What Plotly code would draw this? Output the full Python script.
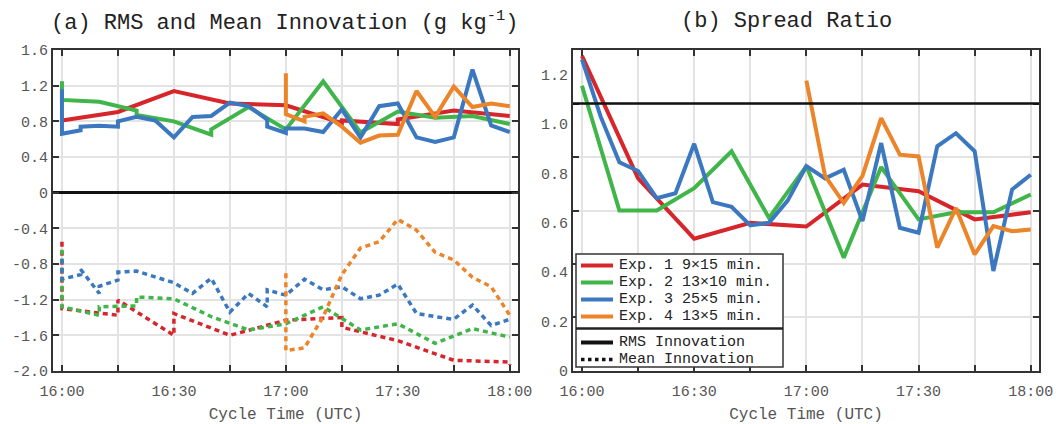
import plotly.graph_objects as go

# ---- axis ticks (minutes after 16:00 UTC) ----
MAJOR_MIN = [0, 30, 60, 90, 120]
MAJOR_TXT = ["16:00", "16:30", "17:00", "17:30", "18:00"]
MINOR_MIN = [15, 45, 75, 105]
A_YVALS = [1.6, 1.2, 0.8, 0.4, 0, -0.4, -0.8, -1.2, -1.6, -2.0]
A_YTXT = ["1.6", "1.2", "0.8", "0.4", "0", "-0.4", "-0.8", "-1.2", "-1.6", "-2.0"]
B_YVALS = [0, 0.2, 0.4, 0.6, 0.8, 1.0, 1.2]
B_YTXT = ["0", "0.2", "0.4", "0.6", "0.8", "1.0", "1.2"]
B_GRID = [0, 0.2167, 0.4333, 0.65, 0.8667, 1.0833, 1.3]

EXP_NAMES = ["Exp. 1 9×15 min.", "Exp. 2 13×10 min.", "Exp. 3 25×5 min.", "Exp. 4 13×5 min."]
EXP_COLORS = ["#d7262b", "#3fb54a", "#3b78c0", "#ec8429"]
STYLE_NAMES = ["RMS Innovation", "Mean Innovation"]

# ---- (a) RMS innovation ----
e1_rms_t = [0, 15, 30, 45, 60, 75, 75, 90, 90, 105, 120]
e1_rms_v = [0.81, 0.905, 1.14, 1.0, 0.98, 0.78, 0.81, 0.77, 0.82, 0.92, 0.86]
e2_rms_t = [0, 0, 10, 20, 20, 30, 40, 40, 50, 60, 70, 80, 90, 100, 110, 120]
e2_rms_v = [1.25, 1.04, 1.02, 0.92, 0.87, 0.80, 0.65, 0.71, 0.96, 0.71, 1.25, 0.675, 0.91, 0.84, 0.86, 0.77]
e3_rms_t = [0, 0, 5, 5, 10, 15, 15, 20, 25, 30, 35, 40, 45, 50, 55, 55, 60, 60,
            65, 70, 75, 80, 85, 90, 95, 100, 105, 110, 115, 120]
e3_rms_v = [1.16, 0.66, 0.70, 0.74, 0.75, 0.74, 0.80, 0.85, 0.81, 0.62, 0.85, 0.86, 1.01, 0.97, 0.82, 0.74, 0.67, 0.72,
            0.72, 0.68, 0.935, 0.62, 0.97, 1.0, 0.62, 0.57, 0.62, 1.38, 0.755, 0.68]
e4_rms_t = [60, 60, 65, 65, 70, 75, 80, 85, 90, 95, 100, 105, 110, 115, 120]
e4_rms_v = [1.34, 0.88, 0.80, 0.85, 0.89, 0.74, 0.56, 0.64, 0.65, 1.14, 0.85, 1.19, 0.96, 1.0, 0.97]

# ---- (a) mean innovation ----
e1_mean_t = [0, 0, 15, 15, 30, 30, 45, 60, 75, 75, 90, 105, 120, 120]
e1_mean_v = [-0.55, -1.30, -1.375, -1.205, -1.60, -1.355, -1.60, -1.43, -1.40, -1.51, -1.66, -1.88, -1.90, -1.93]
e2_mean_t = [0, 0, 10, 10, 20, 20, 30, 40, 50, 60, 70, 80, 90, 100, 110, 120]
e2_mean_v = [-0.64, -1.28, -1.375, -1.28, -1.27, -1.17, -1.19, -1.39, -1.54, -1.47, -1.28, -1.54, -1.47, -1.69, -1.525, -1.62]
e3_mean_t = [0, 0, 5, 5, 10, 10, 15, 15, 20, 25, 30, 35, 40, 45, 50, 55, 55, 60,
             65, 70, 75, 80, 85, 90, 95, 100, 105, 110, 115, 120]
e3_mean_v = [-0.74, -0.97, -0.92, -0.86, -1.13, -1.05, -0.98, -0.89, -0.88, -0.95, -1.01, -1.13, -0.96, -1.34, -1.13, -1.28, -1.09, -1.15,
             -0.97, -1.09, -1.055, -1.19, -1.15, -1.025, -1.355, -1.39, -1.42, -1.26, -1.49, -1.42]
e4_mean_t = [60, 60, 65, 70, 75, 80, 85, 90, 95, 100, 105, 110, 115, 120]
e4_mean_v = [-0.905, -1.77, -1.74, -1.39, -0.92, -0.62, -0.55, -0.30, -0.42, -0.67, -0.755, -0.95, -1.055, -1.375]

# ---- (b) spread ratio ----
e1_sr_t = [0, 15, 30, 45, 60, 75, 90, 105, 120]
e1_sr_v = [1.276, 0.78, 0.536, 0.60, 0.585, 0.755, 0.728, 0.614, 0.643]
e2_sr_t = [0, 10, 20, 30, 40, 50, 60, 70, 80, 90, 100, 110, 120]
e2_sr_v = [1.155, 0.65, 0.65, 0.74, 0.89, 0.62, 0.83, 0.459, 0.826, 0.614, 0.643, 0.643, 0.715]
e3_sr_t = [0, 5, 10, 15, 20, 25, 30, 35, 40, 45, 50, 55, 60, 65, 70, 75, 80, 85, 90, 95, 100, 105, 110, 115, 120]
e3_sr_v = [1.262, 1.03, 0.845, 0.81, 0.70, 0.72, 0.92, 0.684, 0.665, 0.59, 0.60, 0.69, 0.83, 0.78, 0.815,
           0.607, 0.923, 0.58, 0.56, 0.91, 0.963, 0.89, 0.405, 0.735, 0.795]
e4_sr_t = [60, 65, 70, 75, 80, 85, 90, 95, 100, 105, 110, 115, 120]
e4_sr_v = [1.176, 0.79, 0.68, 0.79, 1.024, 0.876, 0.869, 0.50, 0.66, 0.472, 0.587, 0.566, 0.573]
SR_REF = 1.0833

FONT = "Courier New, Liberation Mono, monospace"
LW = 4
DOT = "5px,4px"
W, H = 1056, 424
ML, MR, MT, MB = 53, 17, 50, 53

rms = [(e1_rms_t, e1_rms_v), (e2_rms_t, e2_rms_v), (e3_rms_t, e3_rms_v), (e4_rms_t, e4_rms_v)]
mean = [(e1_mean_t, e1_mean_v), (e2_mean_t, e2_mean_v), (e3_mean_t, e3_mean_v), (e4_mean_t, e4_mean_v)]
sr = [(e1_sr_t, e1_sr_v), (e2_sr_t, e2_sr_v), (e3_sr_t, e3_sr_v), (e4_sr_t, e4_sr_v)]

fig = go.Figure()

for (t, v), c in zip(mean, EXP_COLORS):
    fig.add_trace(go.Scatter(x=t, y=v, mode="lines", line=dict(color=c, width=3.5, dash=DOT),
                             showlegend=False, xaxis="x", yaxis="y"))
for (t, v), c in zip(rms, EXP_COLORS):
    fig.add_trace(go.Scatter(x=t, y=v, mode="lines", line=dict(color=c, width=LW),
                             showlegend=False, xaxis="x", yaxis="y"))
for (t, v), c, n in zip(sr, EXP_COLORS, EXP_NAMES):
    fig.add_trace(go.Scatter(x=t, y=v, mode="lines", line=dict(color=c, width=LW), name=n,
                             showlegend=False, xaxis="x2", yaxis="y2"))
# empty trace that carries the grid axis of panel (b)
fig.add_trace(go.Scatter(x=[], y=[], showlegend=False, xaxis="x2", yaxis="y3"))

XR = [-2.4, 122.2]
GRID = "#e3e3e3"
AX = "#333"
xcommon = dict(range=XR, tickmode="array", tickvals=MAJOR_MIN, ticktext=MAJOR_TXT,
               ticks="inside", ticklen=6, tickwidth=1.5, tickcolor=AX, ticklabelstandoff=5,
               minor=dict(tickmode="array", tickvals=MINOR_MIN, ticks="inside", ticklen=6,
                          tickwidth=1.5, tickcolor=AX, showgrid=True, gridcolor=GRID, gridwidth=1.5),
               showline=True, linecolor=AX, linewidth=2, mirror="ticks",
               showgrid=True, gridcolor=GRID, gridwidth=1.5, zeroline=False, automargin=False,
               tickfont=dict(family=FONT, size=15, color="#555"),
               title=dict(text="Cycle Time (UTC)", font=dict(family=FONT, size=16, color="#555"), standoff=9))


def px(x):
    return (x - ML) / (W - ML - MR)


def py(y):
    return (H - MB - y) / (H - MT - MB)


# ---- hand-built legend key (box, divider, sample lines, labels) ----
LEG_L, LEG_R, LEG_T, LEG_B = 576, 783, 254, 367
LEG_DIV = 328.5
ROW_Y = [265.5, 282.5, 299.5, 316.5, 342.5, 359.5]
SAMPLE_X0, SAMPLE_X1, TEXT_X = 581, 613, 617

shapes = [
    dict(type="line", xref="x2 domain", yref="y2", x0=0, x1=1, y0=SR_REF, y1=SR_REF,
         line=dict(color="#111", width=2.5)),
    dict(type="rect", xref="paper", yref="paper", x0=px(LEG_L), x1=px(LEG_R), y0=py(LEG_B), y1=py(LEG_T),
         fillcolor="white", line=dict(color="#333", width=1.5), layer="above"),
    dict(type="line", xref="paper", yref="paper", x0=px(LEG_L), x1=px(LEG_R), y0=py(LEG_DIV), y1=py(LEG_DIV),
         line=dict(color="#222", width=2.5), layer="above"),
]
annotations = [
    dict(text="(a) RMS and Mean Innovation (g kg<sup>-1</sup>)", xref="paper", yref="paper",
         x=px(284), y=py(21), xanchor="center", yanchor="middle", showarrow=False,
         font=dict(family=FONT, size=22, color="#222")),
    dict(text="(b) Spread Ratio", xref="paper", yref="paper",
         x=px(786), y=py(21), xanchor="center", yanchor="middle", showarrow=False,
         font=dict(family=FONT, size=22, color="#222")),
]
key_styles = [dict(color=c, width=LW) for c in EXP_COLORS] + [
    dict(color="#111", width=LW), dict(color="#111", width=3.5, dash="dot")]
for name, style, ry in zip(EXP_NAMES + STYLE_NAMES, key_styles, ROW_Y):
    shapes.append(dict(type="line", xref="paper", yref="paper", x0=px(SAMPLE_X0), x1=px(SAMPLE_X1),
                       y0=py(ry), y1=py(ry), line=style, layer="above"))
    annotations.append(dict(text=name, xref="paper", yref="paper", x=px(TEXT_X), y=py(ry),
                            xanchor="left", yanchor="middle", showarrow=False,
                            font=dict(family=FONT, size=15, color="#222")))

fig.update_layout(
    width=W, height=H,
    margin=dict(l=ML, r=MR, t=MT, b=MB),
    plot_bgcolor="white", paper_bgcolor="white",
    font=dict(family=FONT, color="#333"),
    showlegend=False,
    xaxis=dict(domain=[0, px(518)], anchor="y", **xcommon),
    yaxis=dict(range=[-2.0, 1.6], tickmode="array", tickvals=A_YVALS, ticktext=A_YTXT, ticks="inside", ticklen=6,
               tickwidth=1.5, tickcolor=AX, showline=True, linecolor=AX, linewidth=2,
               mirror="ticks", showgrid=True, gridcolor=GRID, gridwidth=1.5,
               zeroline=True, zerolinecolor="#111", zerolinewidth=2.5, automargin=False,
               tickfont=dict(family=FONT, size=15, color="#555"), anchor="x"),
    xaxis2=dict(domain=[px(573), 1.0], anchor="y2", **xcommon),
    yaxis2=dict(range=[0, 1.3], tickmode="array", tickvals=B_YVALS, ticktext=B_YTXT, ticks="",
                showgrid=False, showline=True, linecolor=AX, linewidth=2, mirror=True, zeroline=False,
                automargin=False, tickfont=dict(family=FONT, size=15, color="#555"), anchor="x2"),
    yaxis3=dict(range=[0, 1.3], tickmode="array", tickvals=B_GRID, showticklabels=False, ticks="inside",
                ticklen=6, tickwidth=1.5, tickcolor=AX, showline=True, linecolor=AX, linewidth=2,
                mirror="ticks", showgrid=True, gridcolor=GRID, gridwidth=1.5, zeroline=False,
                automargin=False, overlaying="y2", anchor="x2"),
    shapes=shapes,
    annotations=annotations,
)

fig.write_html("out.html")
